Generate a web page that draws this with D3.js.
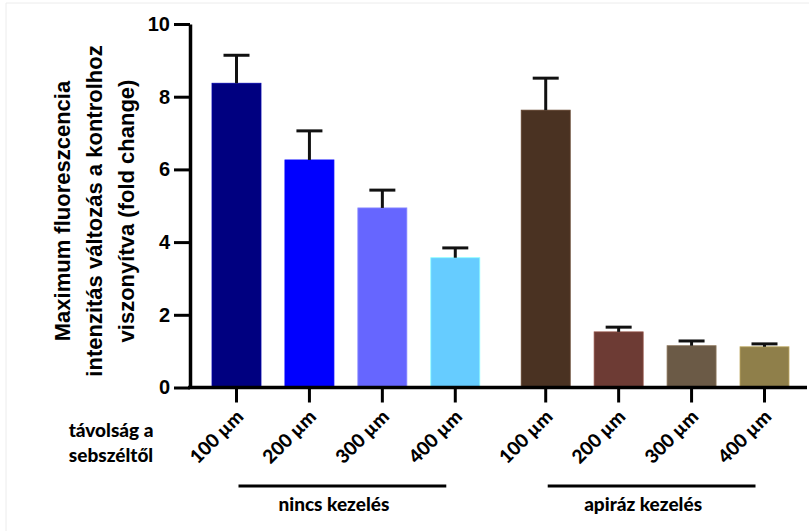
<!DOCTYPE html>
<html>
<head>
<meta charset="utf-8">
<script src="https://cdn.jsdelivr.net/npm/d3@7"></script>
<style>
  body { margin: 0; background: #fff; }
  svg { display: block; }
</style>
</head>
<body>
<div id="chart"></div>
<script>
// data
const groups = ["nincs kezelés", "apiráz kezelés"];
const distances = ["100 µm", "200 µm", "300 µm", "400 µm"];
const means = [8.37, 6.26, 4.94, 3.57, 7.63, 1.53, 1.15, 1.12];
const sems = [0.77, 0.80, 0.49, 0.27, 0.88, 0.13, 0.13, 0.08];
const colors = ["#000080", "#0000ff", "#6666ff", "#66ccff",
                "#4a3222", "#6d3b34", "#6b5a46", "#8f7f4a"];
const yTicks = [0, 2, 4, 6, 8, 10];

const width = 809;
const height = 531;
const groupGap = 0.24;

const bars = means.map((m, i) => ({
  group: Math.floor(i / 4),
  label: distances[i % 4],
  value: m,
  sem: sems[i],
  color: colors[i],
  pos: i + (i >= 4 ? groupGap : 0)
}));

const svg = d3.select("#chart")
  .append("svg")
  .attr("width", width)
  .attr("height", height);

// faint crop frame
svg.append("path")
  .attr("d", `M6,${height} V3 H${width}`)
  .attr("fill", "none")
  .attr("stroke", "#ececec")
  .attr("stroke-width", 1);

// scales
const x = d3.scaleLinear().domain([0, 7 + groupGap]).range([236.5, 764.5]);
const y = d3.scaleLinear().domain([0, 10]).range([387.5, 24]);
const barW = 49;

// bars
svg.append("g")
  .selectAll("rect")
  .data(bars)
  .join("rect")
  .attr("x", d => x(d.pos) - barW / 2)
  .attr("y", d => y(d.value))
  .attr("width", barW)
  .attr("height", d => y(0) - y(d.value))
  .attr("fill", d => d.color)
  .attr("stroke", d => d3.color(d.color).brighter(0.8))
  .attr("stroke-width", 0.8);

// error bars (upper only)
const err = svg.append("g")
  .attr("stroke", "#111")
  .attr("stroke-width", 3)
  .attr("fill", "none");

err.selectAll("line.v")
  .data(bars)
  .join("line")
  .attr("class", "v")
  .attr("x1", d => x(d.pos))
  .attr("x2", d => x(d.pos))
  .attr("y1", d => y(d.value))
  .attr("y2", d => y(d.value + d.sem));

err.selectAll("line.cap")
  .data(bars)
  .join("line")
  .attr("class", "cap")
  .attr("x1", d => x(d.pos) - 13)
  .attr("x2", d => x(d.pos) + 13)
  .attr("y1", d => y(d.value + d.sem))
  .attr("y2", d => y(d.value + d.sem));

// y axis
const yAxis = svg.append("g")
  .attr("transform", "translate(190,0)")
  .call(d3.axisLeft(y).tickValues(yTicks).tickSize(16).tickSizeOuter(0).tickPadding(4));
yAxis.select(".domain").attr("stroke", "#000").attr("stroke-width", 3.5);
yAxis.selectAll(".tick line").attr("stroke", "#000").attr("stroke-width", 3);
yAxis.selectAll(".tick text")
  .attr("fill", "#000")
  .style("font-family", "'Liberation Sans', Arial, sans-serif")
  .style("font-weight", "bold")
  .style("font-size", "20px");

// x axis baseline
svg.append("line")
  .attr("x1", 188)
  .attr("x2", 807)
  .attr("y1", y(0))
  .attr("y2", y(0))
  .attr("stroke", "#000")
  .attr("stroke-width", 3.5);

// x ticks
svg.append("g")
  .selectAll("line")
  .data(bars)
  .join("line")
  .attr("x1", d => x(d.pos))
  .attr("x2", d => x(d.pos))
  .attr("y1", y(0))
  .attr("y2", y(0) + 15)
  .attr("stroke", "#000")
  .attr("stroke-width", 3);

// rotated x labels
const labelFont = "Lato, 'Open Sans', sans-serif";
svg.append("g")
  .selectAll("text")
  .data(bars)
  .join("text")
  .attr("transform", d => `translate(${x(d.pos) + 8},418) rotate(-45)`)
  .attr("text-anchor", "end")
  .style("font-family", labelFont)
  .style("font-weight", 900)
  .style("font-size", "19px")
  .text(d => d.label);

// "távolság a sebszéltől"
const dist = svg.append("text")
  .attr("text-anchor", "middle")
  .style("font-family", labelFont)
  .style("font-weight", 900)
  .style("font-size", "19px");
dist.append("tspan").attr("x", 111).attr("y", 437).text("távolság a");
dist.append("tspan").attr("x", 111).attr("y", 462).text("sebszéltől");

// group brackets
groups.forEach((g, gi) => {
  const first = x(gi * 4 + (gi ? groupGap : 0));
  const last = x(gi * 4 + 3 + (gi ? groupGap : 0));
  svg.append("line")
    .attr("x1", first + 2)
    .attr("x2", last - 9)
    .attr("y1", 486)
    .attr("y2", 486)
    .attr("stroke", "#000")
    .attr("stroke-width", 3);
  svg.append("text")
    .attr("x", (first + last) / 2 - 12)
    .attr("y", 511)
    .attr("text-anchor", "middle")
    .style("font-family", labelFont)
    .style("font-weight", 900)
    .style("font-size", "19px")
    .text(g);
});

// y axis title
const yTitle = ["Maximum fluoreszcencia", "intenzitás változás a kontrolhoz", "viszonyítva (fold change)"];
svg.append("g")
  .attr("transform", "translate(0,211) rotate(-90)")
  .selectAll("text")
  .data(yTitle)
  .join("text")
  .attr("x", 0)
  .attr("y", (d, i) => 70 + i * 32)
  .attr("text-anchor", "middle")
  .style("font-family", "'Liberation Sans', Arial, sans-serif")
  .style("font-weight", "bold")
  .style("font-size", "22px")
  .text(d => d);
</script>
</body>
</html>
